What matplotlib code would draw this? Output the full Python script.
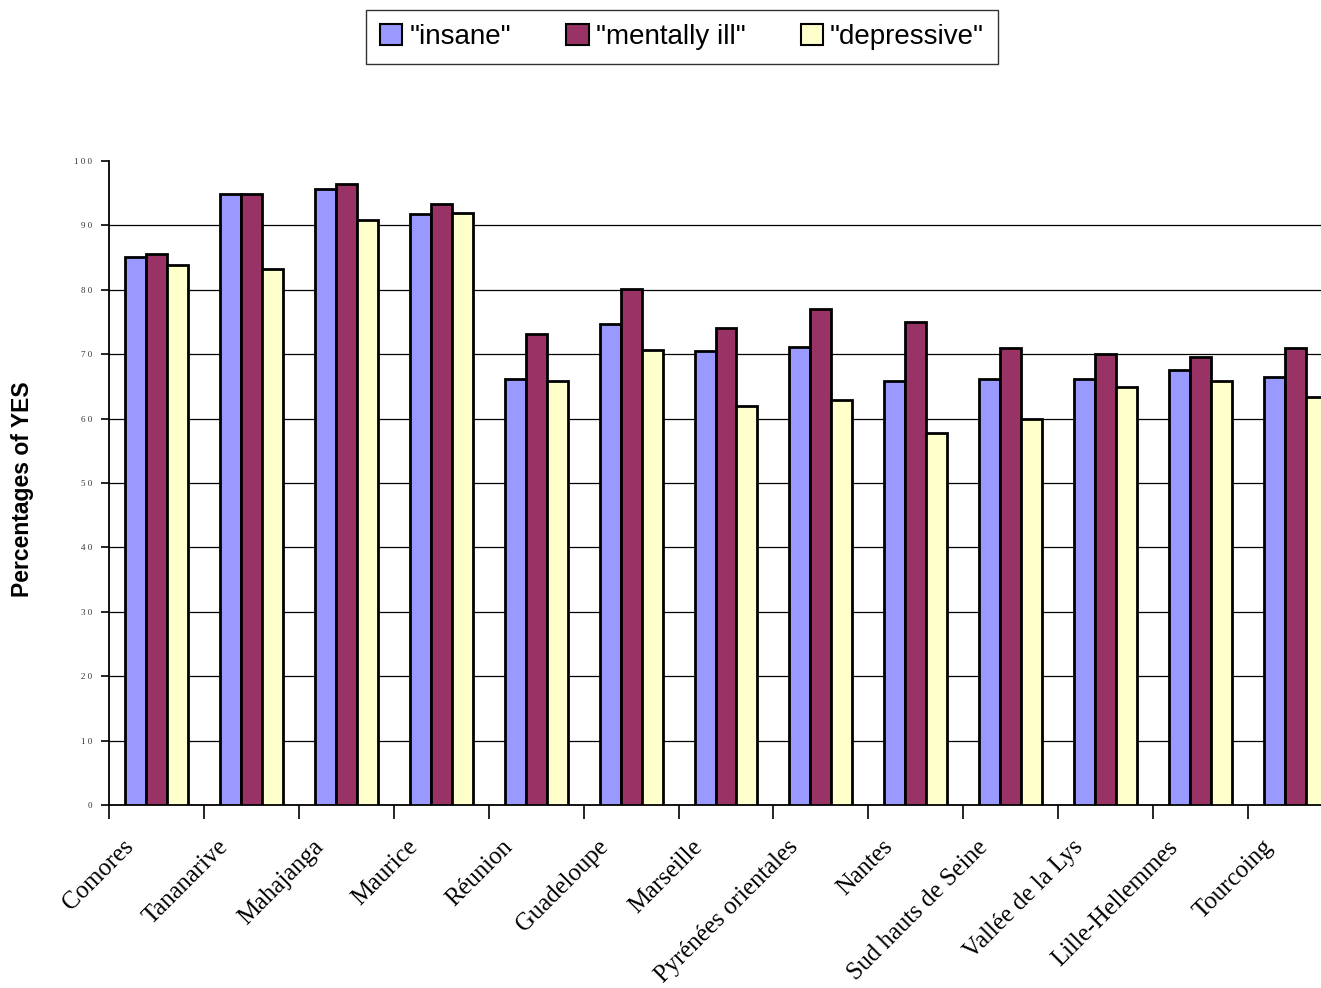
import matplotlib
matplotlib.use("Agg")
import matplotlib.pyplot as plt
import matplotlib.transforms as mtransforms
from matplotlib.patches import Patch
import numpy as np

# Survey sites
sites = ["Comores", "Tananarive", "Mahajanga", "Maurice", "Réunion", "Guadeloupe",
         "Marseille", "Pyrénées orientales", "Nantes", "Sud hauts de Seine",
         "Vallée de la Lys", "Lille-Hellemmes", "Tourcoing"]

# Percentage of "yes" answers per term
insane = [85.1, 94.9, 95.7, 91.7, 66.1, 74.7, 70.5, 71.1, 65.9, 66.1, 66.1, 67.5, 66.5]
mentally_ill = [85.5, 94.9, 96.5, 93.3, 73.1, 80.2, 74.0, 77.0, 75.0, 71.0, 70.1, 69.5, 71.0]
depressive = [83.8, 83.2, 90.9, 91.9, 65.9, 70.6, 61.9, 62.9, 57.7, 59.9, 64.9, 65.9, 63.3]

series_labels = ['"insane"', '"mentally ill"', '"depressive"']
colors = ["#9999FF", "#993366", "#FFFFCC"]
y_ticks = list(range(0, 101, 10))

W, H = 1321, 988
fig = plt.figure(figsize=(W / 100, H / 100), dpi=100)
ax_left, ax_right = 109 / W, 1343 / W
ax_bottom, ax_top = (H - 805) / H, (H - 161) / H
ax = fig.add_axes([ax_left, ax_bottom, ax_right - ax_left, ax_top - ax_bottom])

x = np.arange(len(sites))
bw = 0.221
for k, (vals, col) in enumerate(zip([insane, mentally_ill, depressive], colors)):
    ax.bar(x + (k - 1) * bw, vals, width=bw, color=col, edgecolor="black",
           linewidth=2.0, zorder=3)

ax.set_xlim(-0.5, len(sites) - 0.5)
ax.set_ylim(0, 100)

# horizontal gridlines (none at the top)
for v in y_ticks[1:-1]:
    ax.axhline(v, color="black", linewidth=0.9, zorder=1)

for side in ["top", "right"]:
    ax.spines[side].set_visible(False)
ax.spines["left"].set_linewidth(1.3)
ax.spines["bottom"].set_linewidth(1.3)

ax.set_yticks(y_ticks)
ax.set_yticklabels([" ".join(str(v)) for v in y_ticks], fontsize=6.5,
                   family="Liberation Serif", color="#333333")
ax.tick_params(axis="y", direction="out", length=6, width=1.2, pad=6)

ax.set_xticks(np.arange(len(sites)) - 0.5)
ax.set_xticklabels([])
ax.tick_params(axis="x", direction="out", length=10, width=1.2)

# category labels, rotated
trans = mtransforms.offset_copy(ax.get_xaxis_transform(), fig=fig, x=0, y=-31, units="dots")
for i, name in enumerate(sites):
    ax.text(i - 0.36, 0, name, transform=trans, rotation=45, rotation_mode="anchor",
            ha="right", va="top", fontsize=17.8, family="Liberation Serif")

fig.text(22 / W, 1 - 489 / H, "Percentages of YES", rotation=90, ha="center", va="center",
         fontsize=16.5, fontweight="bold", family="Liberation Sans")

handles = [Patch(facecolor=c, edgecolor="black", linewidth=1.5) for c in colors]
leg = fig.legend(handles, series_labels, loc="center", bbox_to_anchor=(682 / W, 1 - 37 / H),
                 ncol=3, frameon=True, fancybox=False, shadow=False,
                 prop={"family": "Liberation Sans", "size": 20},
                 handlelength=0.8, handleheight=0.8, handletextpad=0.25,
                 columnspacing=2.0, borderpad=0.5)
leg.get_frame().set_edgecolor("black")
leg.get_frame().set_linewidth(1.0)

fig.savefig("out.png", dpi=100)
